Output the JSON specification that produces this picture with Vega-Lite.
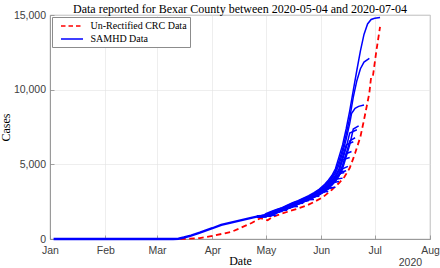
{
"$schema": "https://vega.github.io/schema/vega-lite/v6.json",
"width": 380, "height": 224,
"autosize": {"type": "none"},
"padding": {"left": 50, "top": 15, "right": 10, "bottom": 29},
"background": "white",
"title": {"text": "Data reported for Bexar County between 2020-05-04 and 2020-07-04", "font": "Liberation Serif", "fontSize": 12, "fontWeight": "normal", "color": "black", "frame": "group", "offset": -6},
"datasets": {
"crc": [
{"d":"2020/03/14","c":0},{"d":"2020/03/25","c":60},{"d":"2020/04/02","c":230},{"d":"2020/04/12","c":490},{"d":"2020/04/23","c":1070},{"d":"2020/04/28","c":1400},{"d":"2020/05/02","c":1250},{"d":"2020/05/05","c":1500},{"d":"2020/05/10","c":1700},{"d":"2020/05/16","c":1930},{"d":"2020/05/20","c":2080},{"d":"2020/05/24","c":2250},{"d":"2020/05/28","c":2480},{"d":"2020/06/02","c":2800},{"d":"2020/06/07","c":3300},{"d":"2020/06/11","c":3750},{"d":"2020/06/14","c":4150},{"d":"2020/06/17","c":4750},{"d":"2020/06/19","c":5400},{"d":"2020/06/20","c":5740},{"d":"2020/06/23","c":6850},{"d":"2020/06/25","c":7970},{"d":"2020/06/28","c":9770},{"d":"2020/06/29","c":10850},{"d":"2020/06/30","c":10900},{"d":"2020/07/02","c":12650},{"d":"2020/07/04","c":14200}
],
"early": [
{"d":"2020/01/03","c":0},{"d":"2020/03/10","c":0},{"d":"2020/03/13","c":20},{"d":"2020/03/16","c":100},{"d":"2020/03/20","c":230},{"d":"2020/03/25","c":420},{"d":"2020/04/01","c":720},{"d":"2020/04/06","c":950},{"d":"2020/04/15","c":1200},{"d":"2020/04/24","c":1450},{"d":"2020/04/26","c":1500},{"d":"2020/04/28","c":1540}
],
"sam": [
{"v":"01","d":"2020/04/26","c":1500},{"v":"01","d":"2020/05/01","c":1525},{"v":"01","d":"2020/05/04","c":1535},
{"v":"02","d":"2020/04/26","c":1500},{"v":"02","d":"2020/05/01","c":1500},{"v":"02","d":"2020/05/04","c":1575},{"v":"02","d":"2020/05/07","c":1585},
{"v":"03","d":"2020/04/26","c":1500},{"v":"03","d":"2020/05/01","c":1537},{"v":"03","d":"2020/05/04","c":1650},{"v":"03","d":"2020/05/07","c":1825},{"v":"03","d":"2020/05/10","c":1845},
{"v":"04","d":"2020/04/26","c":1500},{"v":"04","d":"2020/05/01","c":1512},{"v":"04","d":"2020/05/04","c":1587},{"v":"04","d":"2020/05/07","c":1775},{"v":"04","d":"2020/05/10","c":1912},{"v":"04","d":"2020/05/13","c":1929},
{"v":"05","d":"2020/04/26","c":1500},{"v":"05","d":"2020/05/01","c":1550},{"v":"05","d":"2020/05/04","c":1700},{"v":"05","d":"2020/05/07","c":1850},{"v":"05","d":"2020/05/10","c":1975},{"v":"05","d":"2020/05/13","c":2100},{"v":"05","d":"2020/05/16","c":2122},
{"v":"06","d":"2020/04/26","c":1500},{"v":"06","d":"2020/05/01","c":1500},{"v":"06","d":"2020/05/04","c":1575},{"v":"06","d":"2020/05/07","c":1750},{"v":"06","d":"2020/05/10","c":1892},{"v":"06","d":"2020/05/13","c":2017},{"v":"06","d":"2020/05/16","c":2156},{"v":"06","d":"2020/05/19","c":2178},
{"v":"07","d":"2020/04/26","c":1500},{"v":"07","d":"2020/05/01","c":1525},{"v":"07","d":"2020/05/04","c":1600},{"v":"07","d":"2020/05/07","c":1800},{"v":"07","d":"2020/05/10","c":1933},{"v":"07","d":"2020/05/13","c":2058},{"v":"07","d":"2020/05/16","c":2212},{"v":"07","d":"2020/05/19","c":2380},{"v":"07","d":"2020/05/22","c":2399},
{"v":"08","d":"2020/04/26","c":1500},{"v":"08","d":"2020/05/01","c":1537},{"v":"08","d":"2020/05/04","c":1650},{"v":"08","d":"2020/05/07","c":1825},{"v":"08","d":"2020/05/10","c":1954},{"v":"08","d":"2020/05/13","c":2079},{"v":"08","d":"2020/05/16","c":2240},{"v":"08","d":"2020/05/19","c":2404},{"v":"08","d":"2020/05/22","c":2548},{"v":"08","d":"2020/05/25","c":2567},
{"v":"09","d":"2020/04/26","c":1500},{"v":"09","d":"2020/05/01","c":1500},{"v":"09","d":"2020/05/04","c":1575},{"v":"09","d":"2020/05/07","c":1750},{"v":"09","d":"2020/05/10","c":1892},{"v":"09","d":"2020/05/13","c":2017},{"v":"09","d":"2020/05/16","c":2156},{"v":"09","d":"2020/05/19","c":2324},{"v":"09","d":"2020/05/22","c":2476},{"v":"09","d":"2020/05/25","c":2620},{"v":"09","d":"2020/05/28","c":2642},
{"v":"10","d":"2020/04/26","c":1500},{"v":"10","d":"2020/05/01","c":1525},{"v":"10","d":"2020/05/04","c":1600},{"v":"10","d":"2020/05/07","c":1800},{"v":"10","d":"2020/05/10","c":1933},{"v":"10","d":"2020/05/13","c":2058},{"v":"10","d":"2020/05/16","c":2212},{"v":"10","d":"2020/05/19","c":2380},{"v":"10","d":"2020/05/22","c":2524},{"v":"10","d":"2020/05/25","c":2675},{"v":"10","d":"2020/05/28","c":2840},{"v":"10","d":"2020/05/31","c":2862},
{"v":"11","d":"2020/04/26","c":1500},{"v":"11","d":"2020/05/01","c":1550},{"v":"11","d":"2020/05/04","c":1700},{"v":"11","d":"2020/05/07","c":1850},{"v":"11","d":"2020/05/10","c":1975},{"v":"11","d":"2020/05/13","c":2100},{"v":"11","d":"2020/05/16","c":2268},{"v":"11","d":"2020/05/19","c":2428},{"v":"11","d":"2020/05/22","c":2572},{"v":"11","d":"2020/05/25","c":2730},{"v":"11","d":"2020/05/28","c":2895},{"v":"11","d":"2020/05/31","c":3107},{"v":"11","d":"2020/06/03","c":3138},
{"v":"12","d":"2020/04/26","c":1500},{"v":"12","d":"2020/05/01","c":1512},{"v":"12","d":"2020/05/04","c":1587},{"v":"12","d":"2020/05/07","c":1775},{"v":"12","d":"2020/05/10","c":1912},{"v":"12","d":"2020/05/13","c":2038},{"v":"12","d":"2020/05/16","c":2184},{"v":"12","d":"2020/05/19","c":2352},{"v":"12","d":"2020/05/22","c":2500},{"v":"12","d":"2020/05/25","c":2648},{"v":"12","d":"2020/05/28","c":2812},{"v":"12","d":"2020/05/31","c":2989},{"v":"12","d":"2020/06/02","c":3146},{"v":"12","d":"2020/06/05","c":3177},
{"v":"13","d":"2020/04/26","c":1500},{"v":"13","d":"2020/05/01","c":1537},{"v":"13","d":"2020/05/04","c":1650},{"v":"13","d":"2020/05/07","c":1825},{"v":"13","d":"2020/05/10","c":1954},{"v":"13","d":"2020/05/13","c":2079},{"v":"13","d":"2020/05/16","c":2240},{"v":"13","d":"2020/05/19","c":2404},{"v":"13","d":"2020/05/22","c":2548},{"v":"13","d":"2020/05/25","c":2703},{"v":"13","d":"2020/05/28","c":2868},{"v":"13","d":"2020/05/31","c":3068},{"v":"13","d":"2020/06/03","c":3302},{"v":"13","d":"2020/06/04","c":3381},{"v":"13","d":"2020/06/07","c":3412},
{"v":"14","d":"2020/04/26","c":1500},{"v":"14","d":"2020/05/01","c":1500},{"v":"14","d":"2020/05/04","c":1575},{"v":"14","d":"2020/05/07","c":1750},{"v":"14","d":"2020/05/10","c":1892},{"v":"14","d":"2020/05/13","c":2017},{"v":"14","d":"2020/05/16","c":2156},{"v":"14","d":"2020/05/19","c":2324},{"v":"14","d":"2020/05/22","c":2476},{"v":"14","d":"2020/05/25","c":2620},{"v":"14","d":"2020/05/28","c":2785},{"v":"14","d":"2020/05/31","c":2950},{"v":"14","d":"2020/06/03","c":3185},{"v":"14","d":"2020/06/05","c":3342},{"v":"14","d":"2020/06/06","c":3420},{"v":"14","d":"2020/06/09","c":3468},
{"v":"15","d":"2020/04/26","c":1500},{"v":"15","d":"2020/05/01","c":1525},{"v":"15","d":"2020/05/04","c":1600},{"v":"15","d":"2020/05/07","c":1800},{"v":"15","d":"2020/05/10","c":1933},{"v":"15","d":"2020/05/13","c":2058},{"v":"15","d":"2020/05/16","c":2212},{"v":"15","d":"2020/05/19","c":2380},{"v":"15","d":"2020/05/22","c":2524},{"v":"15","d":"2020/05/25","c":2675},{"v":"15","d":"2020/05/28","c":2840},{"v":"15","d":"2020/05/31","c":3028},{"v":"15","d":"2020/06/03","c":3263},{"v":"15","d":"2020/06/05","c":3420},{"v":"15","d":"2020/06/07","c":3660},{"v":"15","d":"2020/06/08","c":3780},{"v":"15","d":"2020/06/11","c":3843},
{"v":"16","d":"2020/04/26","c":1500},{"v":"16","d":"2020/05/01","c":1512},{"v":"16","d":"2020/05/04","c":1587},{"v":"16","d":"2020/05/07","c":1775},{"v":"16","d":"2020/05/10","c":1912},{"v":"16","d":"2020/05/13","c":2038},{"v":"16","d":"2020/05/16","c":2184},{"v":"16","d":"2020/05/19","c":2352},{"v":"16","d":"2020/05/22","c":2500},{"v":"16","d":"2020/05/25","c":2648},{"v":"16","d":"2020/05/28","c":2812},{"v":"16","d":"2020/05/31","c":2989},{"v":"16","d":"2020/06/03","c":3224},{"v":"16","d":"2020/06/05","c":3381},{"v":"16","d":"2020/06/07","c":3600},{"v":"16","d":"2020/06/09","c":3858},{"v":"16","d":"2020/06/10","c":4015},{"v":"16","d":"2020/06/13","c":4077},
{"v":"17","d":"2020/04/26","c":1500},{"v":"17","d":"2020/05/01","c":1537},{"v":"17","d":"2020/05/04","c":1650},{"v":"17","d":"2020/05/07","c":1825},{"v":"17","d":"2020/05/10","c":1954},{"v":"17","d":"2020/05/13","c":2079},{"v":"17","d":"2020/05/16","c":2240},{"v":"17","d":"2020/05/19","c":2404},{"v":"17","d":"2020/05/22","c":2548},{"v":"17","d":"2020/05/25","c":2703},{"v":"17","d":"2020/05/28","c":2868},{"v":"17","d":"2020/05/31","c":3068},{"v":"17","d":"2020/06/03","c":3302},{"v":"17","d":"2020/06/05","c":3480},{"v":"17","d":"2020/06/07","c":3720},{"v":"17","d":"2020/06/09","c":4015},{"v":"17","d":"2020/06/11","c":4362},{"v":"17","d":"2020/06/14","c":4452},
{"v":"18","d":"2020/04/26","c":1500},{"v":"18","d":"2020/05/01","c":1525},{"v":"18","d":"2020/05/04","c":1600},{"v":"18","d":"2020/05/07","c":1800},{"v":"18","d":"2020/05/10","c":1933},{"v":"18","d":"2020/05/13","c":2058},{"v":"18","d":"2020/05/16","c":2212},{"v":"18","d":"2020/05/19","c":2380},{"v":"18","d":"2020/05/22","c":2524},{"v":"18","d":"2020/05/25","c":2675},{"v":"18","d":"2020/05/28","c":2840},{"v":"18","d":"2020/05/31","c":3028},{"v":"18","d":"2020/06/03","c":3263},{"v":"18","d":"2020/06/05","c":3420},{"v":"18","d":"2020/06/07","c":3660},{"v":"18","d":"2020/06/09","c":3937},{"v":"18","d":"2020/06/11","c":4250},{"v":"18","d":"2020/06/12","c":4475},{"v":"18","d":"2020/06/15","c":4565},
{"v":"19","d":"2020/04/26","c":1500},{"v":"19","d":"2020/05/01","c":1525},{"v":"19","d":"2020/05/04","c":1600},{"v":"19","d":"2020/05/07","c":1800},{"v":"19","d":"2020/05/10","c":1933},{"v":"19","d":"2020/05/13","c":2058},{"v":"19","d":"2020/05/16","c":2212},{"v":"19","d":"2020/05/19","c":2380},{"v":"19","d":"2020/05/22","c":2524},{"v":"19","d":"2020/05/25","c":2675},{"v":"19","d":"2020/05/28","c":2840},{"v":"19","d":"2020/05/31","c":3028},{"v":"19","d":"2020/06/03","c":3263},{"v":"19","d":"2020/06/05","c":3420},{"v":"19","d":"2020/06/07","c":3660},{"v":"19","d":"2020/06/09","c":3937},{"v":"19","d":"2020/06/11","c":4250},{"v":"19","d":"2020/06/13","c":4700},{"v":"19","d":"2020/06/16","c":4860},
{"v":"20","d":"2020/04/26","c":1500},{"v":"20","d":"2020/05/01","c":1562},{"v":"20","d":"2020/05/04","c":1725},{"v":"20","d":"2020/05/07","c":1871},{"v":"20","d":"2020/05/10","c":1996},{"v":"20","d":"2020/05/13","c":2128},{"v":"20","d":"2020/05/16","c":2296},{"v":"20","d":"2020/05/19","c":2452},{"v":"20","d":"2020/05/22","c":2596},{"v":"20","d":"2020/05/25","c":2758},{"v":"20","d":"2020/05/28","c":2922},{"v":"20","d":"2020/05/31","c":3146},{"v":"20","d":"2020/06/03","c":3381},{"v":"20","d":"2020/06/05","c":3600},{"v":"20","d":"2020/06/07","c":3858},{"v":"20","d":"2020/06/09","c":4171},{"v":"20","d":"2020/06/11","c":4588},{"v":"20","d":"2020/06/13","c":5300},{"v":"20","d":"2020/06/17","c":5460},
{"v":"21","d":"2020/04/26","c":1500},{"v":"21","d":"2020/05/01","c":1537},{"v":"21","d":"2020/05/04","c":1650},{"v":"21","d":"2020/05/07","c":1825},{"v":"21","d":"2020/05/10","c":1954},{"v":"21","d":"2020/05/13","c":2079},{"v":"21","d":"2020/05/16","c":2240},{"v":"21","d":"2020/05/19","c":2404},{"v":"21","d":"2020/05/22","c":2548},{"v":"21","d":"2020/05/25","c":2703},{"v":"21","d":"2020/05/28","c":2868},{"v":"21","d":"2020/05/31","c":3068},{"v":"21","d":"2020/06/03","c":3302},{"v":"21","d":"2020/06/05","c":3480},{"v":"21","d":"2020/06/07","c":3720},{"v":"21","d":"2020/06/09","c":4015},{"v":"21","d":"2020/06/11","c":4362},{"v":"21","d":"2020/06/13","c":4900},{"v":"21","d":"2020/06/15","c":5700},{"v":"21","d":"2020/06/18","c":5860},
{"v":"22","d":"2020/04/26","c":1500},{"v":"22","d":"2020/05/01","c":1575},{"v":"22","d":"2020/05/04","c":1750},{"v":"22","d":"2020/05/07","c":1892},{"v":"22","d":"2020/05/10","c":2017},{"v":"22","d":"2020/05/13","c":2156},{"v":"22","d":"2020/05/16","c":2324},{"v":"22","d":"2020/05/19","c":2476},{"v":"22","d":"2020/05/22","c":2620},{"v":"22","d":"2020/05/25","c":2785},{"v":"22","d":"2020/05/28","c":2950},{"v":"22","d":"2020/05/31","c":3185},{"v":"22","d":"2020/06/03","c":3420},{"v":"22","d":"2020/06/05","c":3660},{"v":"22","d":"2020/06/07","c":3937},{"v":"22","d":"2020/06/09","c":4250},{"v":"22","d":"2020/06/11","c":4700},{"v":"22","d":"2020/06/13","c":5500},{"v":"22","d":"2020/06/15","c":6300},{"v":"22","d":"2020/06/19","c":6513},
{"v":"23","d":"2020/04/26","c":1500},{"v":"23","d":"2020/05/01","c":1537},{"v":"23","d":"2020/05/04","c":1650},{"v":"23","d":"2020/05/07","c":1825},{"v":"23","d":"2020/05/10","c":1954},{"v":"23","d":"2020/05/13","c":2079},{"v":"23","d":"2020/05/16","c":2240},{"v":"23","d":"2020/05/19","c":2404},{"v":"23","d":"2020/05/22","c":2548},{"v":"23","d":"2020/05/25","c":2703},{"v":"23","d":"2020/05/28","c":2868},{"v":"23","d":"2020/05/31","c":3068},{"v":"23","d":"2020/06/03","c":3302},{"v":"23","d":"2020/06/05","c":3480},{"v":"23","d":"2020/06/07","c":3720},{"v":"23","d":"2020/06/09","c":4015},{"v":"23","d":"2020/06/11","c":4362},{"v":"23","d":"2020/06/13","c":4900},{"v":"23","d":"2020/06/15","c":5700},{"v":"23","d":"2020/06/17","c":6566},{"v":"23","d":"2020/06/20","c":6780},
{"v":"24","d":"2020/04/26","c":1500},{"v":"24","d":"2020/05/01","c":1562},{"v":"24","d":"2020/05/04","c":1725},{"v":"24","d":"2020/05/07","c":1871},{"v":"24","d":"2020/05/10","c":1996},{"v":"24","d":"2020/05/13","c":2128},{"v":"24","d":"2020/05/16","c":2296},{"v":"24","d":"2020/05/19","c":2452},{"v":"24","d":"2020/05/22","c":2596},{"v":"24","d":"2020/05/25","c":2758},{"v":"24","d":"2020/05/28","c":2922},{"v":"24","d":"2020/05/31","c":3146},{"v":"24","d":"2020/06/03","c":3381},{"v":"24","d":"2020/06/05","c":3600},{"v":"24","d":"2020/06/07","c":3858},{"v":"24","d":"2020/06/09","c":4171},{"v":"24","d":"2020/06/11","c":4588},{"v":"24","d":"2020/06/13","c":5300},{"v":"24","d":"2020/06/15","c":6100},{"v":"24","d":"2020/06/17","c":7100},{"v":"24","d":"2020/06/21","c":7313},
{"v":"25","d":"2020/04/26","c":1500},{"v":"25","d":"2020/05/01","c":1525},{"v":"25","d":"2020/05/04","c":1600},{"v":"25","d":"2020/05/07","c":1800},{"v":"25","d":"2020/05/10","c":1933},{"v":"25","d":"2020/05/13","c":2058},{"v":"25","d":"2020/05/16","c":2212},{"v":"25","d":"2020/05/19","c":2380},{"v":"25","d":"2020/05/22","c":2524},{"v":"25","d":"2020/05/25","c":2675},{"v":"25","d":"2020/05/28","c":2840},{"v":"25","d":"2020/05/31","c":3028},{"v":"25","d":"2020/06/03","c":3263},{"v":"25","d":"2020/06/05","c":3420},{"v":"25","d":"2020/06/07","c":3660},{"v":"25","d":"2020/06/09","c":3937},{"v":"25","d":"2020/06/11","c":4250},{"v":"25","d":"2020/06/13","c":4700},{"v":"25","d":"2020/06/15","c":5500},{"v":"25","d":"2020/06/17","c":6300},{"v":"25","d":"2020/06/19","c":7367},{"v":"25","d":"2020/06/22","c":7580},
{"v":"26","d":"2020/04/26","c":1500},{"v":"26","d":"2020/05/01","c":1592},{"v":"26","d":"2020/05/04","c":1785},{"v":"26","d":"2020/05/07","c":1921},{"v":"26","d":"2020/05/10","c":2046},{"v":"26","d":"2020/05/13","c":2195},{"v":"26","d":"2020/05/16","c":2363},{"v":"26","d":"2020/05/19","c":2510},{"v":"26","d":"2020/05/22","c":2658},{"v":"26","d":"2020/05/25","c":2823},{"v":"26","d":"2020/05/28","c":3005},{"v":"26","d":"2020/05/31","c":3239},{"v":"26","d":"2020/06/03","c":3504},{"v":"26","d":"2020/06/05","c":3744},{"v":"26","d":"2020/06/07","c":4046},{"v":"26","d":"2020/06/09","c":4407},{"v":"26","d":"2020/06/11","c":4980},{"v":"26","d":"2020/06/13","c":5780},{"v":"26","d":"2020/06/15","c":6673},{"v":"26","d":"2020/06/17","c":7740},{"v":"26","d":"2020/06/18","c":8400},{"v":"26","d":"2020/06/20","c":8750},{"v":"26","d":"2020/06/22","c":8880},{"v":"26","d":"2020/06/25","c":8970},
{"v":"27","d":"2020/04/26","c":1500},{"v":"27","d":"2020/05/01","c":1630},{"v":"27","d":"2020/05/04","c":1815},{"v":"27","d":"2020/05/07","c":1946},{"v":"27","d":"2020/05/10","c":2071},{"v":"27","d":"2020/05/13","c":2229},{"v":"27","d":"2020/05/16","c":2394},{"v":"27","d":"2020/05/19","c":2538},{"v":"27","d":"2020/05/22","c":2692},{"v":"27","d":"2020/05/25","c":2857},{"v":"27","d":"2020/05/28","c":3052},{"v":"27","d":"2020/05/31","c":3287},{"v":"27","d":"2020/06/03","c":3576},{"v":"27","d":"2020/06/05","c":3827},{"v":"27","d":"2020/06/07","c":4140},{"v":"27","d":"2020/06/09","c":4543},{"v":"27","d":"2020/06/11","c":5220},{"v":"27","d":"2020/06/13","c":6020},{"v":"27","d":"2020/06/15","c":6993},{"v":"27","d":"2020/06/17","c":8105},{"v":"27","d":"2020/06/19","c":9500},{"v":"27","d":"2020/06/21","c":10600},{"v":"27","d":"2020/06/23","c":11400},{"v":"27","d":"2020/06/25","c":11850},{"v":"27","d":"2020/06/28","c":12100},
{"v":"28","d":"2020/04/26","c":1500},{"v":"28","d":"2020/04/30","c":1600},{"v":"28","d":"2020/05/01","c":1700},{"v":"28","d":"2020/05/04","c":1850},{"v":"28","d":"2020/05/07","c":1975},{"v":"28","d":"2020/05/10","c":2100},{"v":"28","d":"2020/05/13","c":2268},{"v":"28","d":"2020/05/16","c":2428},{"v":"28","d":"2020/05/19","c":2572},{"v":"28","d":"2020/05/22","c":2730},{"v":"28","d":"2020/05/25","c":2895},{"v":"28","d":"2020/05/28","c":3107},{"v":"28","d":"2020/05/31","c":3342},{"v":"28","d":"2020/06/03","c":3660},{"v":"28","d":"2020/06/05","c":3937},{"v":"28","d":"2020/06/07","c":4250},{"v":"28","d":"2020/06/09","c":4700},{"v":"28","d":"2020/06/11","c":5500},{"v":"28","d":"2020/06/13","c":6300},{"v":"28","d":"2020/06/15","c":7367},{"v":"28","d":"2020/06/17","c":8583},{"v":"28","d":"2020/06/19","c":9950},{"v":"28","d":"2020/06/21","c":11300},{"v":"28","d":"2020/06/23","c":12600},{"v":"28","d":"2020/06/25","c":13700},{"v":"28","d":"2020/06/27","c":14400},{"v":"28","d":"2020/06/29","c":14700},{"v":"28","d":"2020/07/01","c":14780},{"v":"28","d":"2020/07/04","c":14840}
],
"yr": [{"t": "2020"}]
},
"layer": [
  {"data": {"name": "crc", "format": {"parse": {"d": "date:'%Y/%m/%d'"}}},
   "mark": {"type": "line", "strokeWidth": 1.8, "strokeDash": [5.5, 3.5]},
   "encoding": {
     "x": {"field": "d", "type": "temporal",
           "scale": {"domain": [{"year": 2020, "month": 1, "date": 1}, {"year": 2020, "month": 8, "date": 1}]},
           "axis": {"title": "Date", "format": "%b", "labelFlush": false, "labelPadding": 10, "titlePadding": 0,
                    "values": [{"year":2020,"month":1,"date":1},{"year":2020,"month":2,"date":1},{"year":2020,"month":3,"date":1},{"year":2020,"month":4,"date":1},{"year":2020,"month":5,"date":1},{"year":2020,"month":6,"date":1},{"year":2020,"month":7,"date":1},{"year":2020,"month":8,"date":1}]}},
     "y": {"field": "c", "type": "quantitative",
           "scale": {"domain": [0, 15000], "nice": false},
           "axis": {"title": "Cases", "values": [0, 5000, 10000, 15000], "format": ",d", "labelFlush": false, "labelPadding": 8.5, "titlePadding": 1}},
     "color": {"datum": "Un-Rectified CRC Data",
               "scale": {"domain": ["Un-Rectified CRC Data", "SAMHD Data"], "range": ["#ff0000", "#0000ff"]},
               "legend": {"title": null,
                          "encode": {"symbols": {"update": {"strokeDash": {"signal": "datum.label == 'Un-Rectified CRC Data' ? [4.5, 3] : [1, 0]"}}}}}}
   }},
  {"data": {"name": "early", "format": {"parse": {"d": "date:'%Y/%m/%d'"}}},
   "mark": {"type": "line", "strokeWidth": 2.4},
   "encoding": {
     "x": {"field": "d", "type": "temporal"},
     "y": {"field": "c", "type": "quantitative"},
     "color": {"datum": "SAMHD Data"}
   }},
  {"data": {"name": "sam", "format": {"parse": {"d": "date:'%Y/%m/%d'"}}},
   "mark": {"type": "line", "strokeWidth": 1.5},
   "encoding": {
     "x": {"field": "d", "type": "temporal"},
     "y": {"field": "c", "type": "quantitative"},
     "detail": {"field": "v", "type": "nominal"},
     "color": {"datum": "SAMHD Data"}
   }},
  {"data": {"name": "yr"},
   "mark": {"type": "text", "font": "Liberation Sans", "fontSize": 10.5, "fill": "#404040", "align": "center", "baseline": "middle", "dy": 24},
   "encoding": {
     "x": {"datum": {"year": 2020, "month": "jul", "date": 21}, "type": "temporal"},
     "y": {"datum": 0, "type": "quantitative"},
     "text": {"field": "t", "type": "nominal"}
   }}
],
"config": {
  "view": {"stroke": "#8c8c8c", "strokeWidth": 0.8},
  "axis": {"labelFont": "Liberation Sans", "labelFontSize": 10.5, "labelColor": "#404040",
           "titleFont": "Liberation Serif", "titleFontSize": 12, "titleFontWeight": "normal", "titleColor": "black",
           "domainColor": "#8c8c8c", "domainWidth": 0.8, "tickColor": "#8c8c8c", "tickWidth": 0.8, "tickSize": -4,
           "gridColor": "#e3e3e3", "gridWidth": 0.6},
  "legend": {"orient": "top-left", "offset": 2, "padding": 2.5, "strokeColor": "#8c8c8c", "fillColor": "white",
             "labelFont": "Liberation Serif", "labelFontSize": 10, "labelColor": "black",
             "symbolType": "M-2,0H2", "symbolSize": 121, "symbolStrokeWidth": 1.6, "symbolOffset": 11, "labelOffset": 12, "rowPadding": 1}
}
}
